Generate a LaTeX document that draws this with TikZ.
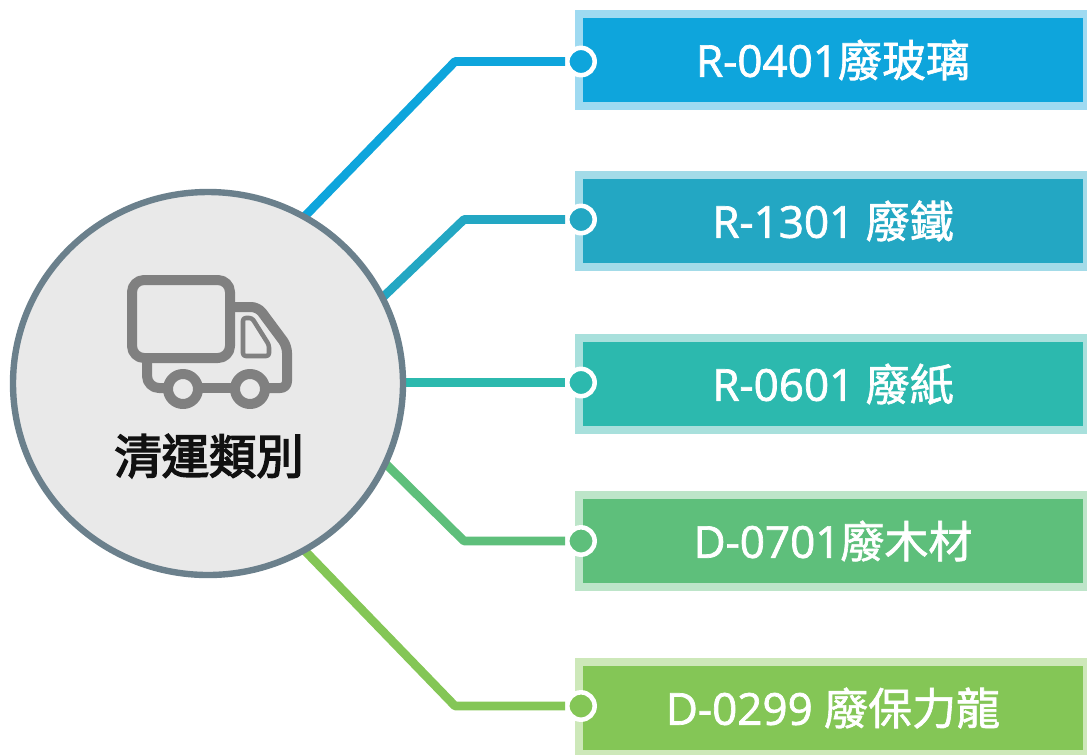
\documentclass[tikz,border=0pt]{standalone}
\usepackage{fontspec}
\setmainfont[FakeBold=1.6]{Open Sans}
\newfontfamily\cjk[FakeBold=1.4]{Noto Sans CJK TC}
\newfontfamily\cjkt[FakeBold=3.2]{Noto Sans CJK TC}
\definecolor{cA}{HTML}{0EA5DC}\definecolor{cAl}{HTML}{9FDAF1}
\definecolor{cB}{HTML}{23A7C3}\definecolor{cBl}{HTML}{A3DBE8}
\definecolor{cC}{HTML}{2CB9AE}\definecolor{cCl}{HTML}{A8E0DC}
\definecolor{cD}{HTML}{5EBF7B}\definecolor{cDl}{HTML}{BDE5C9}
\definecolor{cE}{HTML}{84C656}\definecolor{cEl}{HTML}{CDE8B9}
\definecolor{ring}{HTML}{6B808C}\definecolor{hubfill}{HTML}{E9E9E9}
\definecolor{icon}{HTML}{808080}\definecolor{ink}{HTML}{111111}
\tikzset{
  lab/.style={minimum width=381pt,minimum height=69pt,inner sep=0pt,line width=6pt,text=white,font=\fontsize{33}{33}\selectfont,anchor=center},
  conn/.style={line width=6.5pt,line join=round},
  dot/.style={circle,inner sep=0pt,minimum size=20.5pt,line width=3.4pt,draw=white},
  truck/.style={draw=icon,line width=7.5pt,line join=round}
}
\begin{document}
\begin{tikzpicture}[x=0.75pt,y=-0.75pt]
\useasboundingbox (0,0) rectangle (1087,754);
% boxes
\node[lab,fill=cA,draw=cAl] (b1) at (833,60) {R-0401{\cjk 廢玻璃}};
\node[lab,fill=cB,draw=cBl] (b2) at (833,221) {R-1301 {\cjk 廢鐵}};
\node[lab,fill=cC,draw=cCl] (b3) at (833,384) {R-0601 {\cjk 廢紙}};
\node[lab,fill=cD,draw=cDl] (b4) at (833,541) {D-0701{\cjk 廢木材}};
\node[lab,fill=cE,draw=cEl] (b5) at (833,708) {D-0299 {\cjk 廢保力龍}};
% hub
\node[circle,minimum size=288pt,inner sep=0pt] (hub) at (208,383.5) {};
% elbows
\coordinate (e1) at (455,61.5);
\coordinate (e2) at (464,219.5);
\coordinate (e4) at (464,541);
\coordinate (e5) at (455,706);
% dots
\node[dot,fill=cA] (d1) at (581,61.5) {};
\node[dot,fill=cB] (d2) at (581,219.5) {};
\node[dot,fill=cC] (d3) at (581,382.5) {};
\node[dot,fill=cD] (d4) at (581,541) {};
\node[dot,fill=cE] (d5) at (581,706) {};
% connectors
\draw[conn,draw=cA] (hub.60) -- (e1) -- (d1);
\draw[conn,draw=cB] (hub.26) -- (e2) -- (d2);
\draw[conn,draw=cC] (hub.east|-d3) -- (d3);
\draw[conn,draw=cD] (hub.-24) -- (e4) -- (d4);
\draw[conn,draw=cE] (hub.-60) -- (e5) -- (d5);
% hub disc
\fill[hubfill] (hub.center) ellipse [x radius=195,y radius=191.5];
\draw[ring,line width=4.8pt] (hub.center) ellipse [x radius=195,y radius=191.5];
% truck
\draw[truck,rounded corners=9pt] (132,280) rectangle (230,358);
\draw[truck,rounded corners=5pt] (230,307) -- (258,307) -- (287,346) -- (287,388) -- (265,388);
\draw[truck,rounded corners=9pt] (147,358) -- (147,388) -- (168,388);
\draw[truck] (198,388) -- (235,388);
\draw[truck] (183,389) circle (15);
\draw[truck] (250,389) circle (15);
\draw[icon,line width=3.4pt,line join=round,rounded corners=2pt] (243,318) -- (252,318) -- (269,345) -- (269,356) -- (243,356) -- cycle;
% title
\node[inner sep=0pt,text=ink,font=\cjkt\fontsize{35.5}{35.5}\selectfont] (title) at (209,456) {清運類別};
\end{tikzpicture}
\end{document}
